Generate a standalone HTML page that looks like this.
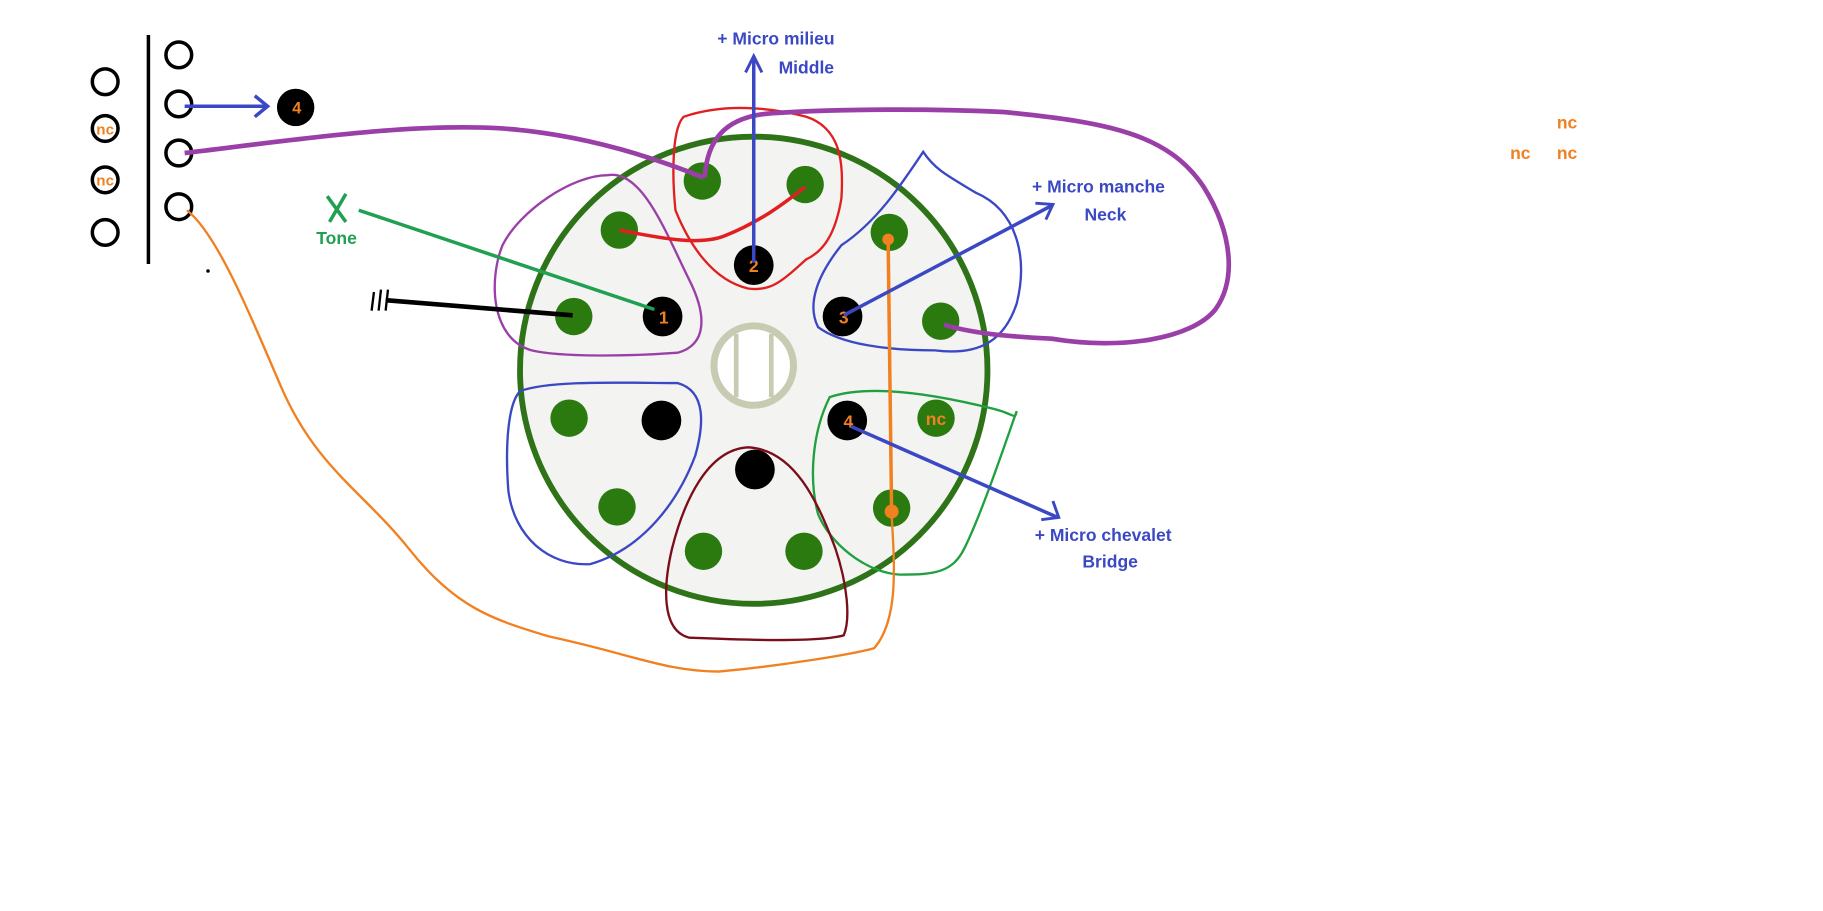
<!DOCTYPE html>
<html><head><meta charset="utf-8"><style>
html,body{margin:0;padding:0;background:#fff;width:1823px;height:911px;overflow:hidden}
svg{display:block}
text{font-family:"Liberation Sans",sans-serif;font-weight:bold}
</style></head><body>
<svg width="1823" height="911" viewBox="0 0 1560 780" preserveAspectRatio="none">
<!-- left connector -->
<line x1="127" y1="30" x2="127" y2="226" stroke="#000" stroke-width="3"/>
<g fill="none" stroke="#000" stroke-width="3">
<circle cx="153" cy="47" r="11"/><circle cx="153" cy="89" r="11"/><circle cx="153" cy="131" r="11"/><circle cx="153" cy="177" r="11"/>
<circle cx="90" cy="70" r="11"/><circle cx="90" cy="110" r="11"/><circle cx="90" cy="154" r="11"/><circle cx="90" cy="199" r="11"/>
</g>
<text x="90" y="115" font-size="13" fill="#f08020" text-anchor="middle">nc</text>
<text x="90" y="159" font-size="13" fill="#f08020" text-anchor="middle">nc</text>
<circle cx="178" cy="232" r="1.5" fill="#000"/>
<line x1="158" y1="91" x2="228" y2="91" stroke="#3b48c4" stroke-width="3"/>
<path d="M218 82 L229 91 L218 100" fill="none" stroke="#3b48c4" stroke-width="3"/>
<circle cx="253" cy="92" r="16" fill="#000"/>
<text x="254" y="97" font-size="14" fill="#f08020" text-anchor="middle">4</text>
<!-- socket -->
<circle cx="645" cy="317" r="200" fill="#f3f3f1"/>
<circle cx="645" cy="317" r="200" fill="none" stroke="#2e7318" stroke-width="5"/>
<circle cx="645" cy="313" r="34" fill="#fff" stroke="#c8cbb2" stroke-width="6"/>
<line x1="630" y1="286" x2="630" y2="340" stroke="#c8cbb2" stroke-width="4"/>
<line x1="660" y1="286" x2="660" y2="340" stroke="#c8cbb2" stroke-width="4"/>
<g fill="#2a7a10">
<circle cx="601" cy="155" r="16"/><circle cx="689" cy="158" r="16"/><circle cx="530" cy="197" r="16"/><circle cx="761" cy="199" r="16"/>
<circle cx="491" cy="271" r="16"/><circle cx="805" cy="275" r="16"/><circle cx="487" cy="358" r="16"/><circle cx="801" cy="358" r="16"/>
<circle cx="528" cy="434" r="16"/><circle cx="763" cy="435" r="16"/><circle cx="602" cy="472" r="16"/><circle cx="688" cy="472" r="16"/>
</g>
<g fill="#000">
<circle cx="645" cy="227" r="17"/><circle cx="567" cy="271" r="17"/><circle cx="721" cy="271" r="17"/>
<circle cx="566" cy="360" r="17"/><circle cx="725" cy="360" r="17"/><circle cx="646" cy="402" r="17"/>
</g>
<g font-size="15" fill="#f08020" text-anchor="middle">
<text x="645" y="233">2</text><text x="568" y="277">1</text><text x="722" y="277">3</text><text x="726" y="366">4</text><text x="801" y="364">nc</text>
</g>
<!-- region outlines -->
<g fill="none" stroke-width="2">
<path d="M585 100 C620 88 660 92 690 100 C720 110 722 140 720 170 C715 200 705 215 690 222 C670 240 660 250 640 247 C610 240 590 210 578 180 C575 150 575 110 585 100Z" stroke="#e02020"/>
<path d="M520 150 C550 145 570 200 590 240 C605 270 605 295 580 302 C540 305 480 306 455 300 C420 290 418 240 430 210 C445 180 490 150 520 150Z" stroke="#9b3fa8"/>
<path d="M790 130 C800 145 810 150 835 165 C870 180 880 220 870 260 C860 290 840 305 800 300 C760 300 720 295 700 280 C690 260 700 235 720 210 C750 190 770 160 790 130Z" stroke="#3b48c4"/>
<path d="M445 335 C470 325 540 328 580 328 C605 335 602 365 595 390 C580 430 550 470 505 483 C470 485 440 460 435 420 C432 380 435 345 445 335Z" stroke="#3b48c4"/>
<path d="M710 340 C740 330 790 335 850 350 C870 355 868 360 870 352 C860 380 840 440 825 470 C815 490 800 492 770 492 C740 490 710 465 700 440 C692 410 695 370 710 340Z" stroke="#20a040"/>
<path d="M640 383 C680 385 700 430 715 470 C725 500 728 530 722 544 C700 550 640 548 590 546 C565 540 568 500 575 470 C585 430 605 385 640 383Z" stroke="#7a0f1a"/>
</g>
<!-- wires -->
<path d="M530 197 C570 205 600 210 620 202 C650 190 670 175 689 160" fill="none" stroke="#e02020" stroke-width="3"/>
<path d="M158 131 C250 120 350 105 430 110 C500 115 560 135 602 152" fill="none" stroke="#9b3fa8" stroke-width="4"/>
<path d="M603 152 C605 120 620 100 660 97 C720 93 800 93 860 96 C950 105 1000 115 1030 160 C1055 200 1058 240 1040 265 C1020 290 960 300 900 290 C860 288 830 285 808 278" fill="none" stroke="#9b3fa8" stroke-width="4"/>
<path d="M160 180 C185 200 210 260 240 330 C270 400 310 420 350 470 C390 520 420 530 470 545 C540 560 570 575 615 575 C670 570 730 560 748 555 C770 530 765 480 763 440" fill="none" stroke="#f08020" stroke-width="2"/>
<line x1="760" y1="205" x2="763" y2="440" stroke="#f08020" stroke-width="3"/>
<circle cx="760" cy="205" r="5" fill="#f08020"/><circle cx="763" cy="438" r="6" fill="#f08020"/>
<line x1="307" y1="180" x2="560" y2="265" stroke="#20a050" stroke-width="3"/>
<path d="M280 168 L296 190 M296 166 L282 190" stroke="#20a050" stroke-width="3"/>
<line x1="330" y1="257" x2="490" y2="270" stroke="#000" stroke-width="4"/>
<path d="M320 250 L318 266 M326 248 L324 266 M332 248 L330 266" stroke="#000" stroke-width="2"/>
<line x1="645" y1="225" x2="645" y2="50" stroke="#3b48c4" stroke-width="3"/>
<path d="M638 62 L645 48 L652 62" fill="none" stroke="#3b48c4" stroke-width="2.5"/>
<line x1="722" y1="270" x2="900" y2="176" stroke="#3b48c4" stroke-width="3"/>
<path d="M886 174 L901 175 L895 188" fill="none" stroke="#3b48c4" stroke-width="2.5"/>
<line x1="728" y1="365" x2="905" y2="443" stroke="#3b48c4" stroke-width="3"/>
<path d="M901 429 L906 443 L891 445" fill="none" stroke="#3b48c4" stroke-width="2.5"/>
<!-- labels -->
<g font-size="15" fill="#3b48c4" text-anchor="middle">
<text x="664" y="38">+ Micro milieu</text><text x="690" y="63">Middle</text>
<text x="940" y="165">+ Micro manche</text><text x="946" y="189">Neck</text>
<text x="944" y="463">+ Micro chevalet</text><text x="950" y="486">Bridge</text>
</g>
<text x="288" y="209" font-size="15" fill="#20a050" text-anchor="middle">Tone</text>
<g font-size="15" fill="#f08020" text-anchor="middle">
<text x="1341" y="110">nc</text><text x="1301" y="136">nc</text><text x="1341" y="136">nc</text>
</g>
</svg>
</body></html>
